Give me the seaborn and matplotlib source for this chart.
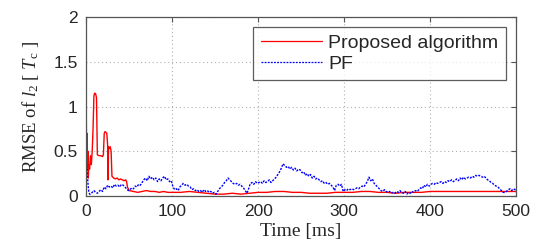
import numpy as np
import pandas as pd
import matplotlib
matplotlib.use("Agg")
import matplotlib.pyplot as plt
import seaborn as sns

# ---------------- data ----------------
series_names = ["Proposed algorithm", "PF"]
x_ticks = [0, 100, 200, 300, 400, 500]
y_ticks = [0, 0.5, 1, 1.5, 2]
y_tick_labels = ["0", "0.5", "1", "1.5", "2"]

prop_time = [0, 0.5, 1, 1.5, 2, 2.5, 3, 4, 5, 6, 7, 8, 9, 10, 11, 12, 13, 15, 17, 19,
             20, 21, 22, 23, 24, 25, 25.5, 26, 27, 28, 29, 30, 32, 34, 36, 38, 40, 42,
             44, 46, 47, 48, 50, 55, 60, 65, 70, 75, 80, 85, 90, 95, 100, 110, 120,
             130, 140, 150, 160, 170, 180, 190, 200, 210, 220, 230, 240, 250, 260, 270,
             280, 290, 300, 310, 320, 330, 340, 350, 360, 370, 380, 390, 400, 410, 420,
             430, 440, 450, 460, 470, 480, 490, 500]
prop_rmse = [1.10, 0.35, 0.70, 0.30, 0.50, 0.20, 0.35, 0.30, 0.45, 0.35, 0.50, 0.75, 1.12,
             1.15, 1.14, 1.10, 0.46, 0.45, 0.45, 0.44, 0.46, 0.70, 0.72, 0.71, 0.70, 0.56,
             0.18, 0.55, 0.53, 0.55, 0.50, 0.22, 0.20, 0.19, 0.20, 0.18, 0.19, 0.18, 0.17,
             0.18, 0.16, 0.10, 0.06, 0.05, 0.04, 0.05, 0.06, 0.05, 0.05, 0.04, 0.05, 0.04,
             0.04, 0.04, 0.05, 0.04, 0.03, 0.02, 0.02, 0.03, 0.02, 0.03, 0.04, 0.04, 0.05,
             0.05, 0.04, 0.04, 0.03, 0.03, 0.03, 0.04, 0.04, 0.04, 0.05, 0.05, 0.04, 0.04,
             0.03, 0.04, 0.04, 0.04, 0.05, 0.05, 0.05, 0.05, 0.05, 0.05, 0.05, 0.05, 0.05,
             0.05, 0.05]

pf_time = [0, 1, 2, 3, 4, 5] + list(range(7, 500, 2)) + [500]
pf_rmse = [0.38, 0.30, 0.15, 0.05, 0.02, 0.02,
           0.04, 0.06, 0.04, 0.03, 0.05, 0.07, 0.05, 0.10, 0.08, 0.12,
           0.10, 0.11, 0.09, 0.13, 0.11, 0.12, 0.10, 0.13, 0.12, 0.10,
           0.08, 0.06, 0.07, 0.09, 0.08, 0.11, 0.10, 0.13, 0.12, 0.15,
           0.18, 0.20, 0.17, 0.22, 0.19, 0.21, 0.18, 0.20, 0.16, 0.19,
           0.17, 0.20, 0.22, 0.18, 0.19, 0.16, 0.17, 0.10, 0.07, 0.08,
           0.06, 0.10, 0.12, 0.14, 0.12, 0.13, 0.11, 0.10, 0.07, 0.08,
           0.06, 0.07, 0.05, 0.06, 0.04, 0.07, 0.05, 0.06, 0.04, 0.05,
           0.03, 0.04, 0.02, 0.05, 0.08, 0.10, 0.12, 0.15, 0.17, 0.20,
           0.18, 0.16, 0.14, 0.13, 0.14, 0.12, 0.13, 0.11, 0.09, 0.06,
           0.03, 0.08, 0.14, 0.15, 0.13, 0.16, 0.14, 0.15, 0.16, 0.14,
           0.17, 0.15, 0.16, 0.18, 0.15, 0.17, 0.19, 0.21, 0.24, 0.27,
           0.31, 0.36, 0.34, 0.32, 0.33, 0.30, 0.32, 0.29, 0.31, 0.28,
           0.30, 0.29, 0.26, 0.27, 0.23, 0.25, 0.22, 0.24, 0.20, 0.22,
           0.19, 0.20, 0.18, 0.16, 0.17, 0.14, 0.15, 0.13, 0.14, 0.12,
           0.10, 0.06, 0.12, 0.13, 0.11, 0.13, 0.05, 0.07, 0.06, 0.08,
           0.07, 0.08, 0.07, 0.08, 0.09, 0.08, 0.10, 0.11, 0.10, 0.13,
           0.16, 0.21, 0.17, 0.19, 0.14, 0.12, 0.10, 0.08, 0.06, 0.05,
           0.07, 0.05, 0.04, 0.05, 0.03, 0.04, 0.03, 0.05, 0.04, 0.06,
           0.04, 0.03, 0.05, 0.02, 0.04, 0.03, 0.05, 0.04, 0.06, 0.05,
           0.07, 0.09, 0.08, 0.12, 0.10, 0.13, 0.11, 0.13, 0.14, 0.13,
           0.15, 0.14, 0.15, 0.16, 0.14, 0.16, 0.15, 0.17, 0.16, 0.18,
           0.16, 0.17, 0.19, 0.17, 0.20, 0.18, 0.21, 0.19, 0.20, 0.21,
           0.20, 0.22, 0.21, 0.23, 0.22, 0.23, 0.22, 0.21, 0.22, 0.20,
           0.18, 0.17, 0.15, 0.14, 0.12, 0.11, 0.10, 0.08, 0.06, 0.04,
           0.04, 0.05, 0.07, 0.08, 0.06, 0.08, 0.07,
           0.08]
assert len(pf_time) == len(pf_rmse), (len(pf_time), len(pf_rmse))
assert len(prop_time) == len(prop_rmse), (len(prop_time), len(prop_rmse))

df = pd.concat([
    pd.DataFrame({"t": prop_time, "rmse": prop_rmse, "method": series_names[0]}),
    pd.DataFrame({"t": pf_time, "rmse": pf_rmse, "method": series_names[1]}),
], ignore_index=True)

# ---------------- style ----------------
sns.set_style("white")
plt.rcParams["font.family"] = ["Liberation Sans", "DejaVu Sans"]
plt.rcParams["mathtext.fontset"] = "custom"
plt.rcParams["mathtext.rm"] = "Liberation Serif"
plt.rcParams["mathtext.it"] = "Liberation Serif:italic"

fig = plt.figure(figsize=(5.42, 2.44), dpi=100)
ax = fig.add_axes([0.159, 0.197, 0.793, 0.733])

sns.lineplot(data=df, x="t", y="rmse", hue="method", style="method",
             palette={series_names[0]: "#ff0000", series_names[1]: "#0000ff"},
             dashes={series_names[0]: "", series_names[1]: (1.5, 1.0)},
             linewidth=1.0, ax=ax, estimator=None, sort=False, legend=True)

ax.set_xlim(0, 500)
ax.set_ylim(0, 2)
ax.set_xticks(x_ticks)
ax.set_yticks(y_ticks)
ax.set_xticklabels([str(v) for v in x_ticks])
ax.set_yticklabels(y_tick_labels)
ax.tick_params(direction="in", length=3.5, width=0.8, color="#555555",
               labelsize=12.5, top=True, right=True, pad=6)
ax.grid(True, linestyle=(0, (1, 2.5)), color="#b0b0b0", linewidth=0.8)
for s in ax.spines.values():
    s.set_color("#555555")
    s.set_linewidth(0.9)

ax.set_xlabel("Time [ms]", fontfamily="Liberation Serif", fontsize=14, labelpad=3)
ax.set_ylabel(r"RMSE of $\mathit{l}_{2}$ [ $\mathit{T}_{\mathrm{c}}$ ]",
              fontfamily="Liberation Serif", fontsize=13.5, labelpad=9)

leg = ax.legend(loc="upper right", fontsize=14, frameon=True, fancybox=False,
                edgecolor="#333333", handlelength=3.1, handletextpad=0.35,
                labelspacing=0.15, borderpad=0.4, borderaxespad=0.5)
leg.get_frame().set_linewidth(0.9)
for line in leg.get_lines():
    line.set_linewidth(0.9)

fig.savefig("out.png", dpi=100)
